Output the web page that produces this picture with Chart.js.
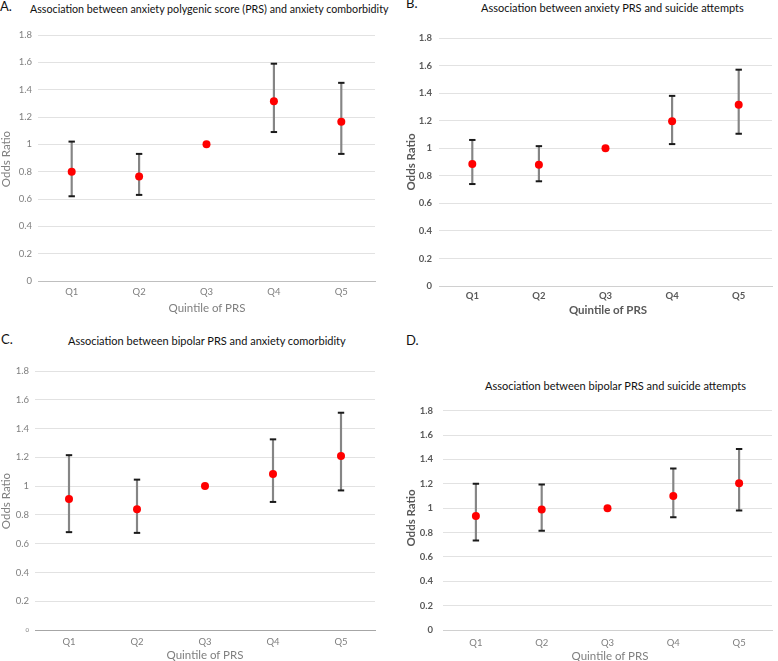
<!DOCTYPE html>
<html>
<head>
<meta charset="utf-8">
<script src="https://cdn.jsdelivr.net/npm/chart.js@4.4.1/dist/chart.umd.min.js"></script>
<style>
  html, body { margin: 0; padding: 0; background: #fff; overflow: hidden; }
  body { width: 778px; height: 661px; position: relative; font-family: Lato, "Open Sans", sans-serif; }
  .letter { position: absolute; font-size: 13px; line-height: 14px; color: #111; }
  .title { position: absolute; font-size: 11px; line-height: 13px; color: #111; white-space: nowrap; }
  .axis-title { position: absolute; font-size: 11.5px; line-height: 1; white-space: nowrap; transform: translate(-50%, -50%); }
  .axis-title.vertical { transform: translate(-50%, -50%) rotate(-90deg); }
  .light { color: #7f7f7f; font-weight: normal; }
  .bold { color: #595959; font-weight: bold; }
  canvas { position: absolute; }
</style>
</head>
<body>
<div class="letter" style="left:0px;top:-1px">A.</div>
<div class="title" style="left:30px;top:2px;font-size:10.7px">Association between anxiety polygenic score (PRS) and anxiety comborbidity</div>
<div class="letter" style="left:406px;top:-4px">B.</div>
<div class="title" style="left:481px;top:1px">Association between anxiety PRS and suicide attempts</div>
<div class="letter" style="left:1px;top:332px">C.</div>
<div class="title" style="left:68px;top:334px">Association between bipolar PRS and anxiety comorbidity</div>
<div class="letter" style="left:406px;top:333px">D.</div>
<div class="title" style="left:485px;top:379px">Association between bipolar PRS and suicide attempts</div>

<canvas id="chartA" width="385" height="300" style="left:0px;top:20px"></canvas>
<canvas id="chartB" width="388" height="300" style="left:390px;top:20px"></canvas>
<canvas id="chartC" width="385" height="306" style="left:0px;top:355px"></canvas>
<canvas id="chartD" width="388" height="266" style="left:390px;top:395px"></canvas>

<div class="axis-title light" id="xTitleA" style="left:207px;top:308px"></div>
<div class="axis-title light vertical" id="yTitleA" style="left:6px;top:159px"></div>
<div class="axis-title bold" id="xTitleB" style="left:608px;top:310px"></div>
<div class="axis-title bold vertical" id="yTitleB" style="left:411px;top:162px"></div>
<div class="axis-title light" id="xTitleC" style="left:205px;top:655px"></div>
<div class="axis-title light vertical" id="yTitleC" style="left:6px;top:501px"></div>
<div class="axis-title light" id="xTitleD" style="left:610px;top:656px"></div>
<div class="axis-title bold vertical" id="yTitleD" style="left:411px;top:518px"></div>

<script>
const quintiles = ['Q1', 'Q2', 'Q3', 'Q4', 'Q5'];
const yTickValues = [0, 0.2, 0.4, 0.6, 0.8, 1, 1.2, 1.4, 1.6, 1.8];
const xTitleText = 'Quintile of PRS';
const yTitleText = 'Odds Ratio';

// A. anxiety PRS vs anxiety comorbidity
const anxComorbOR = [0.80, 0.765, 1.00, 1.315, 1.165];
const anxComorbLow = [0.62, 0.63, null, 1.09, 0.93];
const anxComorbHigh = [1.02, 0.93, null, 1.59, 1.45];

// B. anxiety PRS vs suicide attempts
const anxSuicideOR = [0.885, 0.88, 1.00, 1.195, 1.315];
const anxSuicideLow = [0.74, 0.76, null, 1.03, 1.105];
const anxSuicideHigh = [1.06, 1.015, null, 1.38, 1.57];

// C. bipolar PRS vs anxiety comorbidity
const bipComorbOR = [0.91, 0.84, 1.00, 1.085, 1.21];
const bipComorbLow = [0.68, 0.675, null, 0.89, 0.97];
const bipComorbHigh = [1.215, 1.045, null, 1.325, 1.51];

// D. bipolar PRS vs suicide attempts
const bipSuicideOR = [0.935, 0.99, 1.00, 1.10, 1.205];
const bipSuicideLow = [0.735, 0.815, null, 0.925, 0.98];
const bipSuicideHigh = [1.20, 1.195, null, 1.325, 1.485];

const lightStyle = { weight: 'normal', color: '#7f7f7f' };
const boldStyle = { weight: 'bold', color: '#595959' };

['A', 'B', 'C', 'D'].forEach(p => {
    document.getElementById('xTitle' + p).textContent = xTitleText;
    document.getElementById('yTitle' + p).textContent = yTitleText;
});

function makePanel(id, or, lo, hi, look) {
    const ctx = document.getElementById(id).getContext('2d');
    return new Chart(ctx, {
        type: 'bar',
        data: {
            labels: quintiles,
            datasets: [
                {
                    type: 'line',
                    data: or,
                    showLine: false,
                    pointStyle: 'circle',
                    pointRadius: 4,
                    pointBackgroundColor: '#ff0000',
                    pointBorderColor: '#ff0000',
                    pointBorderWidth: 0,
                    order: 0
                },
                {
                    type: 'line',
                    data: hi,
                    showLine: false,
                    pointStyle: 'line',
                    pointRadius: 3.2,
                    pointBorderColor: '#1a1a1a',
                    pointBorderWidth: 2,
                    order: 1
                },
                {
                    type: 'line',
                    data: lo,
                    showLine: false,
                    pointStyle: 'line',
                    pointRadius: 3.2,
                    pointBorderColor: '#1a1a1a',
                    pointBorderWidth: 2,
                    order: 1
                },
                {
                    // whiskers: floating bars from lower to upper CI
                    type: 'bar',
                    data: lo.map((l, i) => (l === null ? null : [l, hi[i]])),
                    barThickness: 1.5,
                    backgroundColor: '#858585',
                    borderWidth: 0,
                    order: 2
                }
            ]
        },
        options: {
            responsive: false,
            animation: false,
            events: [],
            layout: { padding: { top: look.padTop, right: look.padRight, left: 0, bottom: 0 } },
            plugins: { legend: { display: false }, tooltip: { enabled: false } },
            scales: {
                x: {
                    offset: true,
                    afterFit: s => { s.height = look.xHeight; },
                    grid: { display: false, drawTicks: false },
                    border: { display: true, color: look.axisColor, width: 1 },
                    ticks: {
                        padding: look.xTickPad,
                        color: look.xTick.color,
                        font: { family: 'Lato', size: 9.5, weight: look.xTick.weight }
                    }
                },
                y: {
                    min: 0,
                    max: 1.8,
                    afterFit: s => { s.width = look.yWidth; },
                    afterBuildTicks: s => { s.ticks = yTickValues.map(v => ({ value: v })); },
                    border: { display: false },
                    grid: {
                        drawTicks: false,
                        color: c => (c.tick && c.tick.value === 0 ? look.axisColor : '#e2e2e2'),
                        lineWidth: 1
                    },
                    ticks: {
                        padding: look.yTickPad,
                        color: look.yTick.color,
                        callback: v => String(v),
                        font: c => ({
                            family: 'Lato',
                            size: (look.tinyZero && c.tick && c.tick.value === 0) ? 6 : 9.5,
                            weight: look.yTick.weight
                        })
                    }
                }
            }
        }
    });
}

makePanel('chartA', anxComorbOR, anxComorbLow, anxComorbHigh, {
    padTop: 15, padRight: 10, yWidth: 38, xHeight: 39,
    xTickPad: 5, yTickPad: 6,
    axisColor: '#bfbfbf',
    xTick: lightStyle, yTick: lightStyle
});
makePanel('chartB', anxSuicideOR, anxSuicideLow, anxSuicideHigh, {
    padTop: 18, padRight: 0, yWidth: 49, xHeight: 34,
    xTickPad: 4, yTickPad: 7,
    axisColor: '#d0d0d0',
    xTick: boldStyle, yTick: boldStyle
});
makePanel('chartC', bipComorbOR, bipComorbLow, bipComorbHigh, {
    padTop: 16, padRight: 10, yWidth: 35, xHeight: 31,
    xTickPad: 6, yTickPad: 6,
    axisColor: '#a6a6a6', tinyZero: true,
    xTick: lightStyle, yTick: lightStyle
});
makePanel('chartD', bipSuicideOR, bipSuicideLow, bipSuicideHigh, {
    padTop: 10, padRight: 0, yWidth: 53, xHeight: 31,
    xTickPad: 7, yTickPad: 10,
    axisColor: '#d0d0d0',
    xTick: lightStyle, yTick: boldStyle
});
</script>
</body>
</html>
